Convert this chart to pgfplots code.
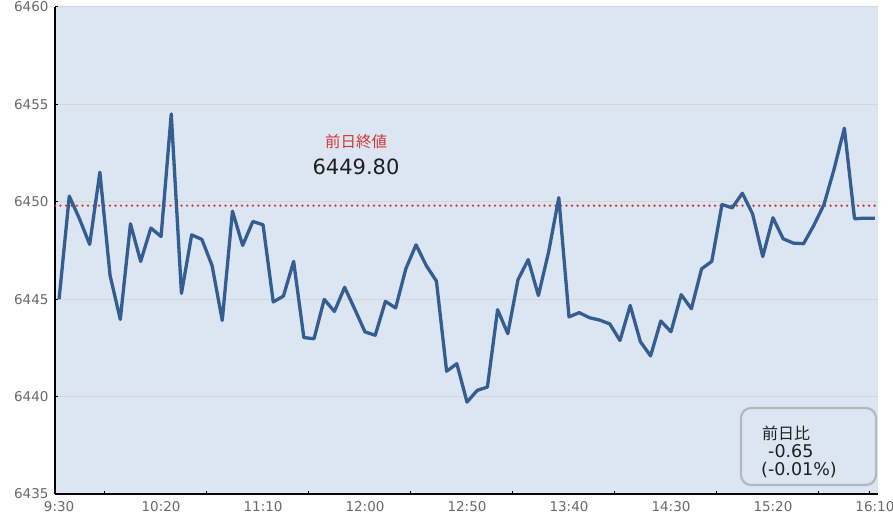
\documentclass[border=0pt]{standalone}
\usepackage{fontspec}
\setmainfont{DejaVu Sans}
\newfontfamily\cjk{Noto Sans CJK JP}
\usepackage{pgfplots}
\pgfplotsset{compat=1.18}

\definecolor{plotbg}{RGB}{220,230,242}
\definecolor{series}{RGB}{52,93,145}
\definecolor{prevclose}{RGB}{210,55,55}
\definecolor{ticktext}{RGB}{105,105,105}
\definecolor{boxline}{RGB}{178,184,190}
\definecolor{gridc}{RGB}{212,214,218}

\begin{document}
\begin{tikzpicture}
\begin{axis}[
	scale only axis,
	width=823pt, height=487pt,
	xmin=-0.4, xmax=80.3,
	ymin=6435, ymax=6460,
	axis x line*=bottom, axis y line*=left,
	axis line style={-, black, line width=1.3pt},
	axis background/.style={fill=plotbg},
	tick align=inside,
	major tick length=3pt,
	tick style={black, line width=1pt},
	xtick={4.5,14.5,24.5,34.5,44.5,54.5,64.5,74.5,79.5},
	xticklabels={},
	extra x ticks={0,10,20,30,40,50,60,70,80},
	extra x tick labels={9:30,10:20,11:10,12:00,12:50,13:40,14:30,15:20,16:10},
	extra x tick style={major tick length=0pt, tick style={draw=none}},
	ytick={6435,6440,6445,6450,6455,6460},
	ymajorgrids,
	grid style={gridc, line width=1pt},
	ticklabel style={font=\fontsize{13.5}{13.5}\selectfont, text=ticktext},
	yticklabel style={xshift=-3pt},
	xticklabel style={yshift=-4pt},
	/pgf/number format/assume math mode=true,
	/pgf/number format/1000 sep={},
]
% previous close
\addplot[prevclose, line width=2.6pt, line cap=round, dash pattern=on 0pt off 5.5pt]
	coordinates {(-0.4,6449.8) (80.3,6449.8)};
% 5-minute index values
\addplot[series, line width=3.3pt, line join=round] table {
0 6445.00
1 6450.29
2 6449.13
3 6447.81
4 6451.52
5 6446.22
6 6443.96
7 6448.87
8 6446.94
9 6448.65
10 6448.22
11 6454.51
12 6445.30
13 6448.30
14 6448.07
15 6446.73
16 6443.91
17 6449.52
18 6447.76
19 6448.99
20 6448.82
21 6444.86
22 6445.16
23 6446.94
24 6443.03
25 6442.97
26 6444.99
27 6444.37
28 6445.61
29 6444.48
30 6443.32
31 6443.15
32 6444.89
33 6444.55
34 6446.56
35 6447.79
36 6446.73
37 6445.93
38 6441.30
39 6441.69
40 6439.72
41 6440.32
42 6440.49
43 6444.46
44 6443.23
45 6446.00
46 6447.03
47 6445.19
48 6447.42
49 6450.21
50 6444.09
51 6444.31
52 6444.05
53 6443.93
54 6443.73
55 6442.88
56 6444.68
57 6442.82
58 6442.09
59 6443.88
60 6443.33
61 6445.23
62 6444.51
63 6446.56
64 6446.94
65 6449.86
66 6449.69
67 6450.44
68 6449.38
69 6447.19
70 6449.18
71 6448.10
72 6447.88
73 6447.85
74 6448.78
75 6449.86
76 6451.69
77 6453.78
78 6449.13
79 6449.16
80 6449.16
};
\end{axis}

% previous close label
\node[text=prevclose, font=\cjk\fontsize{15.5}{15.5}\selectfont] at (301pt,352pt) {前日終値};
\node[text=black!88, font=\fontsize{21}{21}\selectfont] at (301pt,327pt) {6449.80};

% change box
\draw[boxline, line width=2.2pt, rounded corners=10pt, fill=plotbg] (686pt,9pt) rectangle (821pt,86pt);
\node[anchor=west, inner sep=0pt, text=black!88, font=\cjk\fontsize{16}{16}\selectfont] at (707pt,61pt) {前日比};
\node[anchor=west, inner sep=0pt, text=black!88, font=\fontsize{17.5}{17.5}\selectfont] at (713pt,43pt) {-0.65};
\node[anchor=west, inner sep=0pt, text=black!88, font=\fontsize{17.5}{17.5}\selectfont] at (706pt,24pt) {(-0.01\%)};

\pgfresetboundingbox
\path[use as bounding box] (-55pt,-22pt) rectangle (838pt,494pt);
\end{tikzpicture}
\end{document}
